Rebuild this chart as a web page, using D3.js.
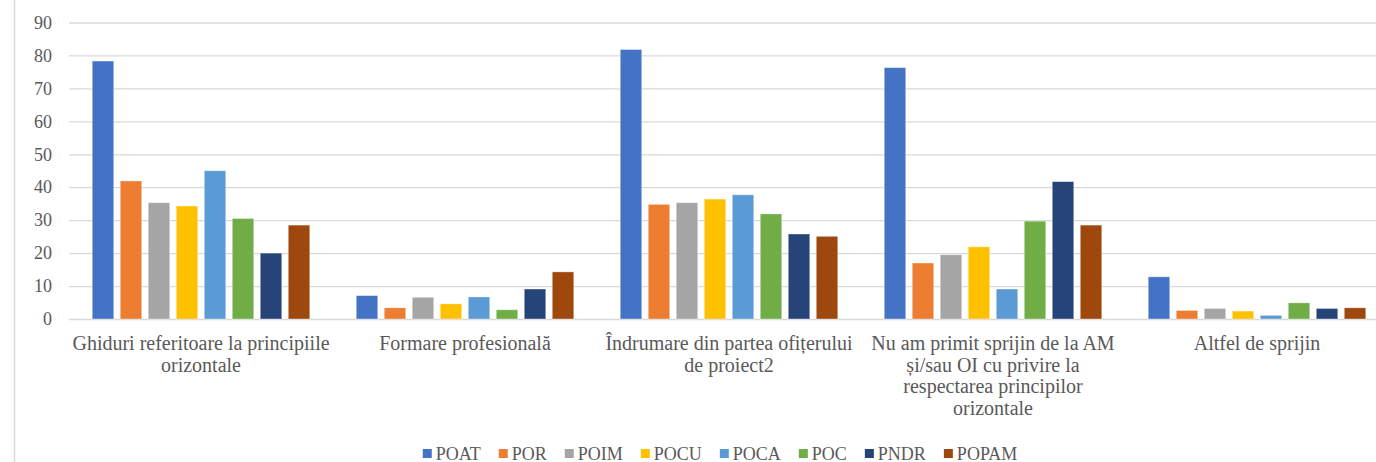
<!DOCTYPE html>
<html>
<head>
<meta charset="utf-8">
<script src="https://cdn.jsdelivr.net/npm/d3@7"></script>
<style>
  html, body { margin: 0; padding: 0; background: #fff; }
  svg { display: block; }
  text { font-family: "Liberation Serif", "Times New Roman", serif; fill: #595959; }
</style>
</head>
<body>
<svg id="chart" width="1376" height="462"></svg>
<script>
// Category labels, already split into the lines they are shown on
const categoryLines = [
  ["Ghiduri referitoare la principiile", "orizontale"],
  ["Formare profesională"],
  ["Îndrumare din partea ofițerului", "de proiect2"],
  ["Nu am primit sprijin de la AM", "și/sau OI cu privire la", "respectarea principilor", "orizontale"],
  ["Altfel de sprijin"]
];

const seriesNames = ["POAT", "POR", "POIM", "POCU", "POCA", "POC", "PNDR", "POPAM"];

// Share of respondents (%) per category, one array per programme
const POAT  = [78.3,  7.1, 81.8, 76.3, 12.8];
const POR   = [41.9,  3.4, 34.8, 17.0,  2.6];
const POIM  = [35.3,  6.6, 35.3, 19.5,  3.2];
const POCU  = [34.3,  4.6, 36.4, 21.9,  2.4];
const POCA  = [45.0,  6.7, 37.7,  9.1,  1.1];
const POC   = [30.5,  2.8, 31.9, 29.7,  4.9];
const PNDR  = [20.0,  9.1, 25.8, 41.7,  3.2];
const POPAM = [28.5, 14.3, 25.1, 28.5,  3.4];

const yTicks = [0, 10, 20, 30, 40, 50, 60, 70, 80, 90];

const seriesValues = [POAT, POR, POIM, POCU, POCA, POC, PNDR, POPAM];
const seriesColors = ["#4472C4", "#ED7D31", "#A5A5A5", "#FFC000", "#5B9BD5", "#70AD47", "#264478", "#9E480E"];

const svg = d3.select("#chart");
const W = 1376, H = 462;

// Plot area (the chart frame continues past the right edge of the page)
const plot = { left: 69, right: 1389, top: 22.5, bottom: 319 };

const categories = categoryLines.map(l => l.join(" "));
const rows = categories.map((c, i) => ({
  category: c,
  lines: categoryLines[i],
  values: seriesNames.map((s, j) => ({ series: s, value: seriesValues[j][i], color: seriesColors[j] }))
}));

// Outer chart border (left edge visible)
svg.append("line")
  .attr("x1", 14.5).attr("x2", 14.5)
  .attr("y1", 0).attr("y2", H)
  .attr("stroke", "#d9d9d9").attr("stroke-width", 1.5);

const x0 = d3.scaleBand()
  .domain(categories)
  .range([plot.left, plot.right])
  .paddingInner(0.176)
  .paddingOuter(0.088);

const x1 = d3.scaleBand()
  .domain(seriesNames)
  .range([0, x0.bandwidth()])
  .paddingInner(0.232)
  .paddingOuter(0);

const y = d3.scaleLinear()
  .domain([0, 90])
  .range([plot.bottom, plot.top]);

// Value axis with horizontal gridlines
const yAxis = d3.axisLeft(y)
  .tickValues(yTicks)
  .tickSize(-(plot.right - plot.left))
  .tickPadding(17)
  .tickFormat(d3.format("d"));

const gy = svg.append("g")
  .attr("transform", `translate(${plot.left},0)`)
  .call(yAxis);
gy.select(".domain").remove();
gy.selectAll(".tick line")
  .attr("stroke", "#d9d9d9")
  .attr("stroke-width", 1.3);
gy.selectAll(".tick text")
  .attr("fill", "#595959")
  .style("font-size", "18px");

// Grouped bars
const groups = svg.append("g")
  .selectAll("g")
  .data(rows)
  .join("g")
  .attr("transform", d => `translate(${x0(d.category)},0)`);

groups.selectAll("rect")
  .data(d => d.values)
  .join("rect")
  .attr("x", d => x1(d.series))
  .attr("y", d => y(d.value))
  .attr("width", x1.bandwidth())
  .attr("height", d => y(0) - y(d.value))
  .attr("fill", d => d.color)
  .attr("stroke", "#ffffff")
  .attr("stroke-opacity", 0.45)
  .attr("stroke-width", 0.8);

// Category labels
const labels = svg.append("g")
  .selectAll("text")
  .data(rows)
  .join("text")
  .attr("text-anchor", "middle")
  .style("font-size", "20px")
  .attr("transform", d => `translate(${x0(d.category) + x0.bandwidth() / 2},350)`);

labels.selectAll("tspan")
  .data(d => d.lines)
  .join("tspan")
  .attr("x", 0)
  .attr("y", (d, i) => i * 21.7)
  .text(d => d);

// Legend, centred below the plot
const legend = svg.append("g");
const items = legend.selectAll("g")
  .data(seriesNames)
  .join("g");

items.append("rect")
  .attr("width", 9).attr("height", 9)
  .attr("y", 449)
  .attr("fill", (d, i) => seriesColors[i]);

items.append("text")
  .attr("x", 13)
  .attr("y", 459.5)
  .style("font-size", "18px")
  .text(d => d);

let cursor = 0;
const itemGap = 18;
items.each(function () {
  const g = d3.select(this);
  const tw = g.select("text").node().getComputedTextLength();
  g.attr("data-x", cursor);
  g.attr("transform", `translate(${cursor},0)`);
  cursor += 13 + tw + itemGap;
});
const legendWidth = cursor - itemGap;
legend.attr("transform", `translate(${720 - legendWidth / 2},0)`);
</script>
</body>
</html>
